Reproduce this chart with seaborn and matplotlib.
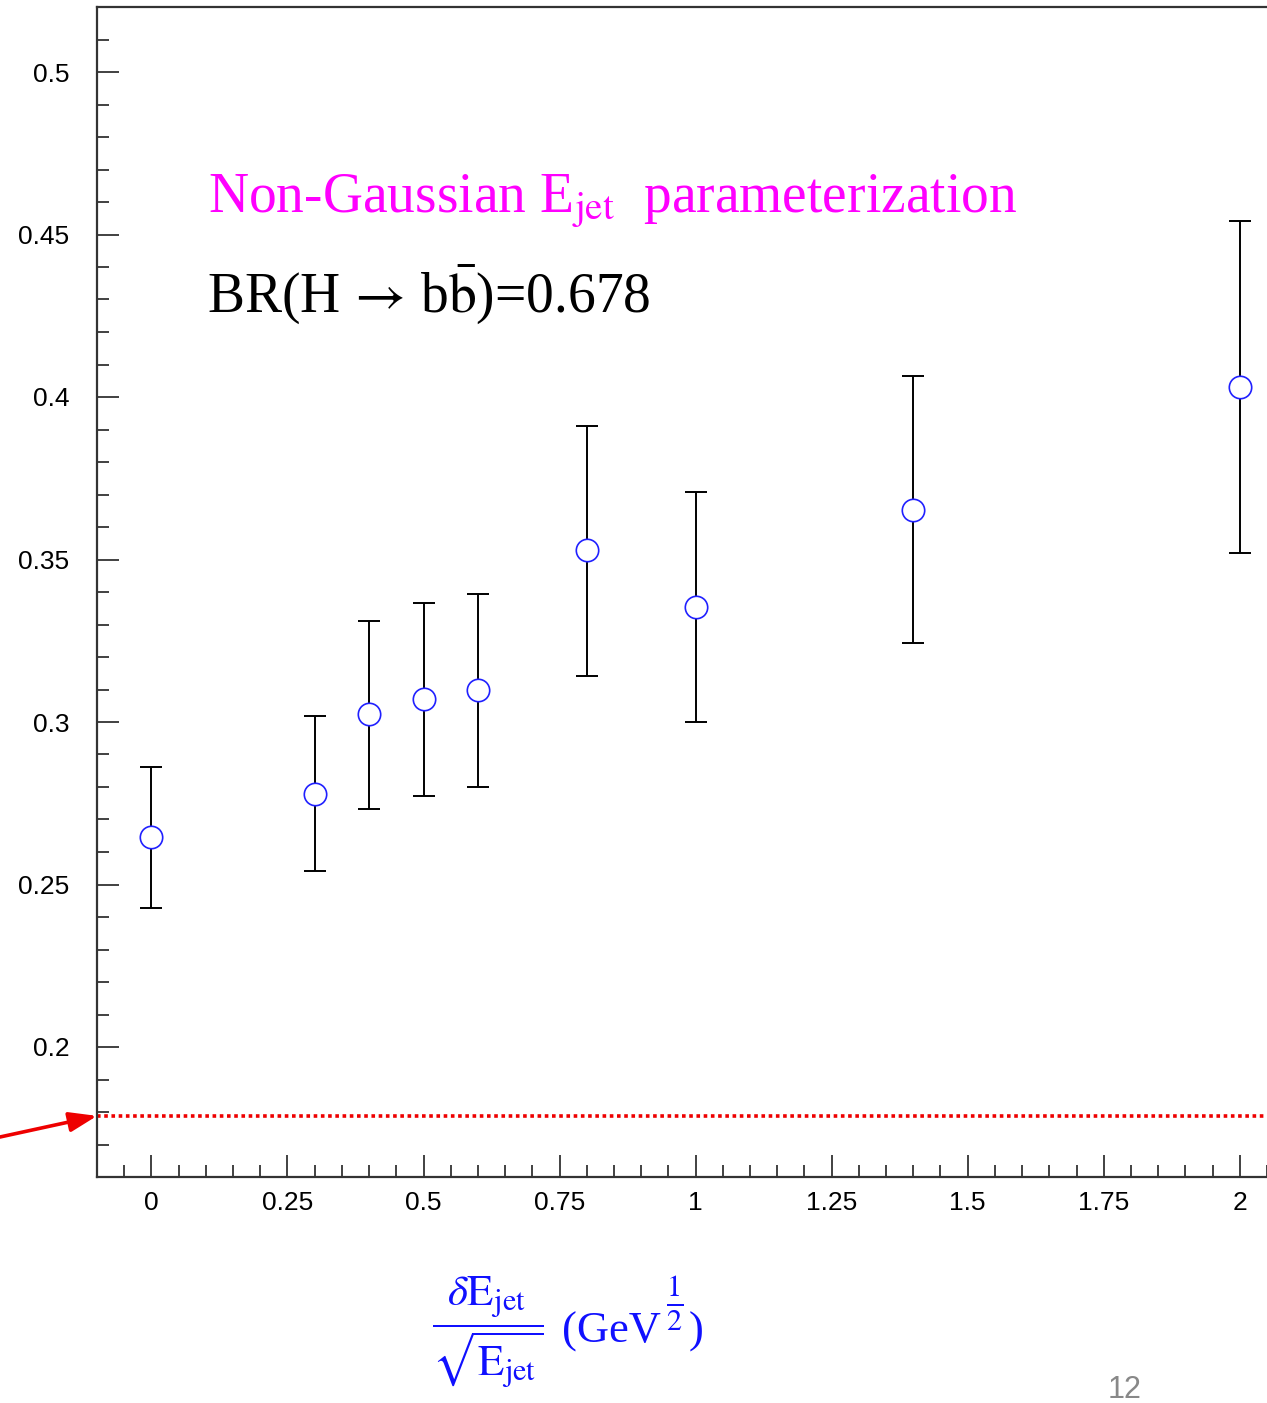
import matplotlib
matplotlib.use("Agg")
import matplotlib.pyplot as plt
import numpy as np
import pandas as pd
import seaborn as sns
from matplotlib.ticker import MultipleLocator

# values
smear = [0.0, 0.3, 0.4, 0.5, 0.6, 0.8, 1.0, 1.4, 2.0]
br_err = [0.2646, 0.2778, 0.3025, 0.3071, 0.3098, 0.3529, 0.3354, 0.3652, 0.4031]
err_hi = [0.2862, 0.3018, 0.3311, 0.3366, 0.3394, 0.3911, 0.3708, 0.4065, 0.4542]
err_lo = [0.2428, 0.2542, 0.2732, 0.2772, 0.2800, 0.3142, 0.3000, 0.3243, 0.3520]
gauss_level = 0.1788

xticks = [0, 0.25, 0.5, 0.75, 1, 1.25, 1.5, 1.75, 2]
xtick_labels = ["0", "0.25", "0.5", "0.75", "1", "1.25", "1.5", "1.75", "2"]
yticks = [0.2, 0.25, 0.3, 0.35, 0.4, 0.45, 0.5]
ytick_labels = ["0.2", "0.25", "0.3", "0.35", "0.4", "0.45", "0.5"]

sns.set_theme(style="white")
plt.rcParams["font.family"] = ["Liberation Sans", "DejaVu Sans"]
plt.rcParams["mathtext.fontset"] = "stix"

df = pd.DataFrame({"smear": smear, "br": br_err, "hi": err_hi, "lo": err_lo})

fig = plt.figure(figsize=(12.67, 14.03), dpi=100)
ax = fig.add_axes([97 / 1267, 226 / 1403, 1170 / 1267, 1170 / 1403])

ax.errorbar(df["smear"], df["br"],
            yerr=[df["br"] - df["lo"], df["hi"] - df["br"]],
            fmt="none", ecolor="black", elinewidth=1.4, capsize=8, capthick=1.4, zorder=2)
sns.scatterplot(data=df, x="smear", y="br", ax=ax, marker="o", s=260,
                facecolor="white", edgecolor="#2020ff", linewidth=1.2, zorder=3)

ax.axhline(gauss_level, color="#ee0000", linestyle=(0, (1, 1)), linewidth=2.6, zorder=1)
ax.annotate("", xy=(-0.1, gauss_level), xycoords="data",
            xytext=(0, 1403 - 1137), textcoords="figure pixels",
            arrowprops=dict(arrowstyle="-|>,head_length=1.4,head_width=0.5",
                            color="#ee0000", lw=2.6, shrinkA=0, shrinkB=0),
            annotation_clip=False)

ax.set_xlim(-0.1, 2.05)
ax.set_ylim(0.16, 0.52)
ax.set_xticks(xticks)
ax.set_xticklabels(xtick_labels)
ax.set_yticks(yticks)
ax.set_yticklabels(ytick_labels)
ax.xaxis.set_minor_locator(MultipleLocator(0.05))
ax.yaxis.set_minor_locator(MultipleLocator(0.01))
ax.tick_params(axis="both", which="both", direction="in", color="#333333", width=1.3,
               labelsize=19, labelcolor="black", bottom=True, left=True,
               top=False, right=False)
ax.tick_params(axis="both", which="major", length=16)
ax.tick_params(axis="both", which="minor", length=8.5)
ax.tick_params(axis="y", pad=20)
ax.tick_params(axis="x", pad=10)
ax.set_xlabel("")
ax.set_ylabel("")
for side in ["left", "bottom", "top"]:
    ax.spines[side].set_color("#333333")
    ax.spines[side].set_linewidth(1.6)
ax.spines["right"].set_visible(False)

serif = ["Liberation Serif", "DejaVu Serif"]
fig.text(208 / 1267, 1 - 213 / 1403,
         r"Non-Gaussian E$_{\mathrm{jet}}$  parameterization",
         color="#ff00ff", fontsize=40, family=serif, ha="left", va="baseline")
fig.text(207 / 1267, 1 - 313 / 1403,
         r"BR(H$\,\rightarrow\,$b$\bar{\mathrm{b}}$)=0.678",
         color="black", fontsize=40, family=serif, ha="left", va="baseline")

# x-axis label in pieces: the fraction, then the unit with its raised 1/2
blue = "#1010ff"
fig.text(488 / 1267, 1 - 1333 / 1403,
         r"$\dfrac{\delta\mathrm{E}_{\mathrm{jet}}}{\sqrt{\mathrm{E}_{\mathrm{jet}}}}$",
         color=blue, fontsize=31, ha="center", va="center")
fig.text(562 / 1267, 1 - 1343 / 1403, "(GeV", color=blue, fontsize=32,
         family=serif, ha="left", va="baseline")
fig.text(675 / 1267, 1 - 1303 / 1403, r"$\frac{1}{2}$", color=blue, fontsize=31,
         ha="center", va="center")
fig.text(689 / 1267, 1 - 1343 / 1403, ")", color=blue, fontsize=32,
         family=serif, ha="left", va="baseline")

fig.text(1125 / 1267, 1 - 1390 / 1403, "12", color="#888888", fontsize=22,
         ha="center", va="center")

fig.savefig("out.png", dpi=100)
